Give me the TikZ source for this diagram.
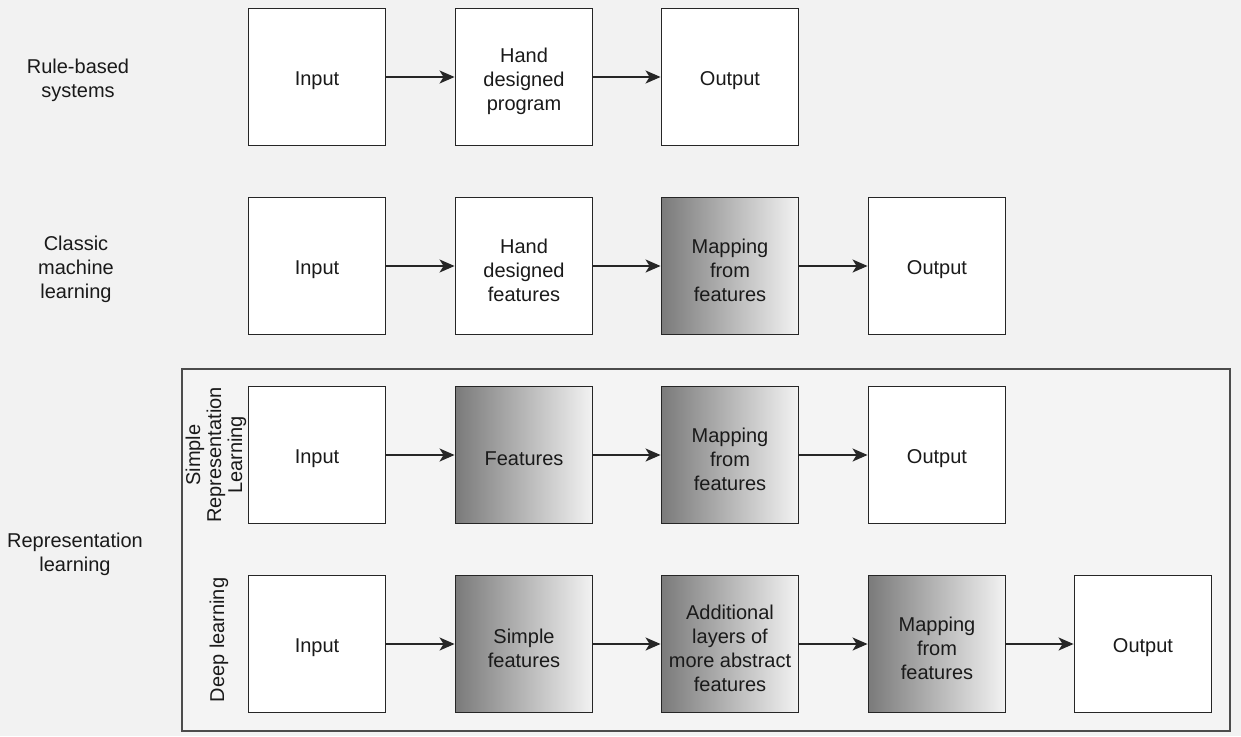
\documentclass[tikz,border=0pt]{standalone}
\usepackage{fontspec}
\setmainfont{Liberation Sans}
\usetikzlibrary{arrows.meta}
\definecolor{bg}{HTML}{F2F2F2}
\definecolor{cont}{HTML}{F4F4F4}
\definecolor{edge}{HTML}{262626}
\definecolor{ink}{HTML}{1A1A1A}
\begin{document}
\begin{tikzpicture}[x=1pt,y=-1pt,
  txt/.style={font=\fontsize{20}{24}\selectfont, text=ink, align=center},
  box/.style={draw=edge, line width=1.9pt, fill=white, minimum width=137pt, minimum height=137pt, inner sep=0pt},
  shadebox/.style={box, shading=axis, left color=black!52, right color=white!95!black, shading angle=90},
  boxtext/.style={label={[txt,yshift=-4pt]center:#1}},
  arr/.style={draw=edge, line width=1.6pt, -{Stealth[length=15pt,width=13pt,inset=4pt]}},
  lab/.style={txt},
  rlab/.style={font=\fontsize{20}{21}\selectfont, text=ink, align=center, rotate=90}
]
\fill[bg] (0,0) rectangle (1241,736);
\useasboundingbox (0,0) rectangle (1241,736);
\draw[draw=black!70, fill=cont, line width=1.4pt] (182,369) rectangle (1230,731);

% labels
\node[lab] (l1) at (78,80) {Rule-based\\systems};
\node[lab] (l2) at (76,269) {Classic\\machine\\learning};
\node[lab] (l3) at (75,554) {Representation\\learning};
\node[rlab] (l4) at (216,455) {Simple\\Representation\\Learning};
\node[rlab] (l5) at (219,640) {Deep learning};

% row 1
\node[box,boxtext={Input}] (a1) at (317,77) {};
\node[box,boxtext={Hand\\designed\\program}] (a2) at (524,77) {};
\node[box,boxtext={Output}] (a3) at (730,77) {};
\draw[arr] (a1) -- (a2);
\draw[arr] (a2) -- (a3);

% row 2
\node[box,boxtext={Input}] (b1) at (317,266) {};
\node[box,boxtext={Hand\\designed\\features}] (b2) at (524,266) {};
\node[shadebox,boxtext={Mapping\\from\\features}] (b3) at (730,266) {};
\node[box,boxtext={Output}] (b4) at (937,266) {};
\draw[arr] (b1) -- (b2);
\draw[arr] (b2) -- (b3);
\draw[arr] (b3) -- (b4);

% row 3
\node[box,boxtext={Input}] (c1) at (317,455) {};
\node[shadebox,boxtext={Features}] (c2) at (524,455) {};
\node[shadebox,boxtext={Mapping\\from\\features}] (c3) at (730,455) {};
\node[box,boxtext={Output}] (c4) at (937,455) {};
\draw[arr] (c1) -- (c2);
\draw[arr] (c2) -- (c3);
\draw[arr] (c3) -- (c4);

% row 4
\node[box,boxtext={Input}] (d1) at (317,644) {};
\node[shadebox,boxtext={Simple\\features}] (d2) at (524,644) {};
\node[shadebox,boxtext={Additional\\layers of\\more abstract\\features}] (d3) at (730,644) {};
\node[shadebox,boxtext={Mapping\\from\\features}] (d4) at (937,644) {};
\node[box,boxtext={Output}] (d5) at (1143,644) {};
\draw[arr] (d1) -- (d2);
\draw[arr] (d2) -- (d3);
\draw[arr] (d3) -- (d4);
\draw[arr] (d4) -- (d5);
\end{tikzpicture}
\end{document}
